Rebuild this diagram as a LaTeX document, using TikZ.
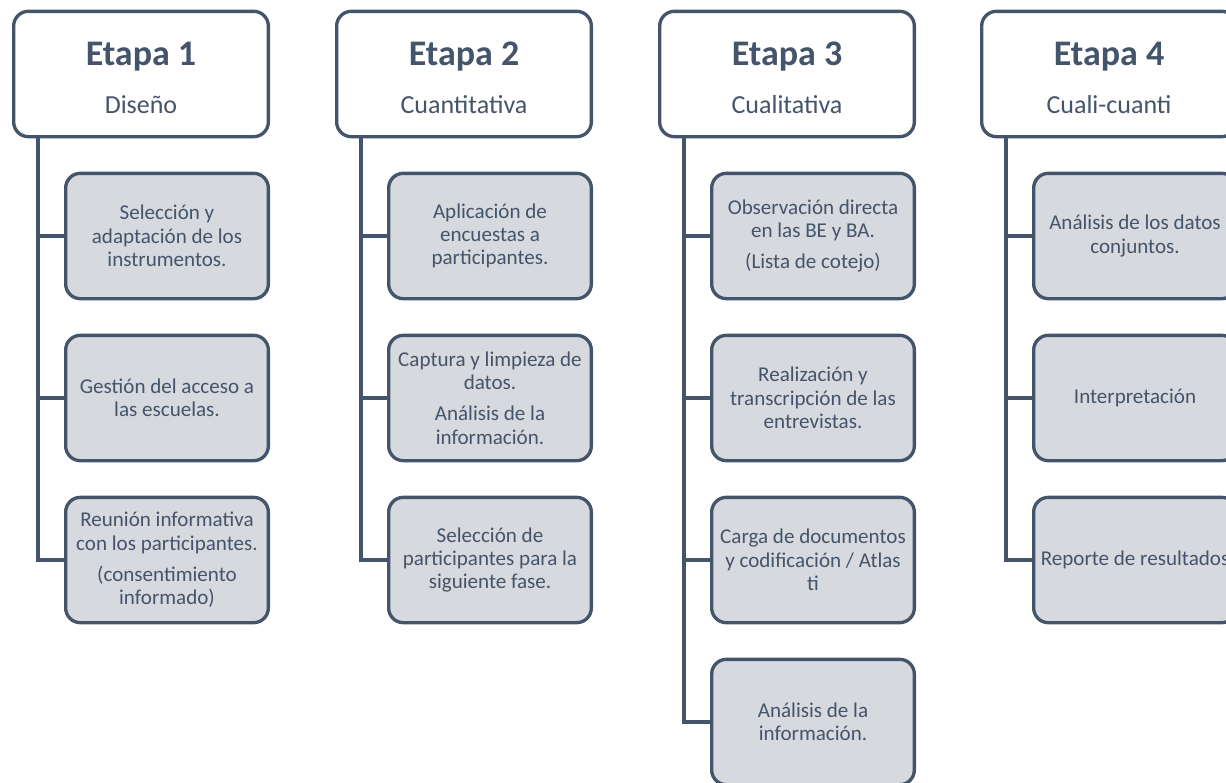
\documentclass[tikz,border=0pt]{standalone}
\usepackage{fontspec}
\setmainfont{Carlito}
\usetikzlibrary{positioning}
\definecolor{myslate}{HTML}{44546A}
\definecolor{mygray}{HTML}{D6D9DE}
\tikzstyle{stage}=[draw=myslate,line width=2.5pt,rounded corners=11pt,fill=white,text=myslate,
                   align=center,inner sep=0pt,minimum width=191pt,minimum height=94pt,
                   font=\fontsize{19.5}{20}\selectfont]
\tikzstyle{task}=[draw=myslate,line width=2.5pt,rounded corners=11pt,fill=mygray,text=myslate,
                  align=center,inner sep=0pt,minimum width=152pt,minimum height=94pt,
                  font=\fontsize{15.8}{17.5}\selectfont]
\tikzstyle{link}=[myslate,line width=2.6pt]
\def\etapa#1{{\fontsize{27}{27}\selectfont\bfseries\rule{0pt}{24pt}Etapa #1}\\[16pt]}

\begin{document}
\begin{tikzpicture}[x=0.75pt,y=-0.75pt]
  \useasboundingbox (0,0) rectangle (1226,782);
  \clip (0,0) rectangle (1226,782);
  
  % TRUNK POSITIONS
  \coordinate (l1) at (  38,0);
  \coordinate (l2) at ( 361,0);
  \coordinate (l3) at ( 684,0);
  \coordinate (l4) at (1006,0);
  
  % STAGES
  \node[stage] (h1) at ( 141,74) {\etapa{1}Diseño};
  \node[stage] (h2) at ( 464,74) {\etapa{2}Cuantitativa};
  \node[stage] (h3) at ( 787,74) {\etapa{3}Cualitativa};
  \node[stage] (h4) at (1109,74) {\etapa{4}Cuali-cuanti};
  
  % TASKS, STAGE 1
  \node[task] (t11) at (167,236) {Selección y\\adaptación de los\\instrumentos.};
  \node[task] (t12) at (167,398) {Gestión del acceso a\\las escuelas.};
  \node[task] (t13) at (167,560) {Reunión informativa\\con los participantes.\\[6pt](consentimiento\\informado)};
  
  % TASKS, STAGE 2
  \node[task] (t21) at (490,236) {Aplicación de\\encuestas a\\participantes.};
  \node[task] (t22) at (490,398) {Captura y limpieza de\\datos.\\[6pt]Análisis de la\\información.};
  \node[task] (t23) at (490,560) {Selección de\\participantes para la\\siguiente fase.};
  
  % TASKS, STAGE 3
  \node[task] (t31) at (813,236) {Observación directa\\en las BE y BA.\\[6pt](Lista de cotejo)};
  \node[task] (t32) at (813,398) {Realización y\\transcripción de las\\entrevistas.};
  \node[task] (t33) at (813,560) {Carga de documentos\\y codificación / Atlas\\ti};
  \node[task] (t34) at (813,722) {Análisis de la\\información.};
  
  % TASKS, STAGE 4
  \node[task] (t41) at (1135,236) {Análisis de los datos\\conjuntos.};
  \node[task] (t42) at (1135,398) {Interpretación};
  \node[task] (t43) at (1135,560) {Reporte de resultados};
  
  % CONNECTORS
  \draw[link] (h1.south -| l1) |- (t13.west);
  \draw[link] (h2.south -| l2) |- (t23.west);
  \draw[link] (h3.south -| l3) |- (t34.west);
  \draw[link] (h4.south -| l4) |- (t43.west);
  \foreach \c in {1,2,3,4}{
    \foreach \r in {1,2}{
      \draw[link] (l\c |- t\c\r.west) -- (t\c\r.west);
    }
  }
  \draw[link] (l3 |- t33.west) -- (t33.west);
  
\end{tikzpicture}
\end{document}
